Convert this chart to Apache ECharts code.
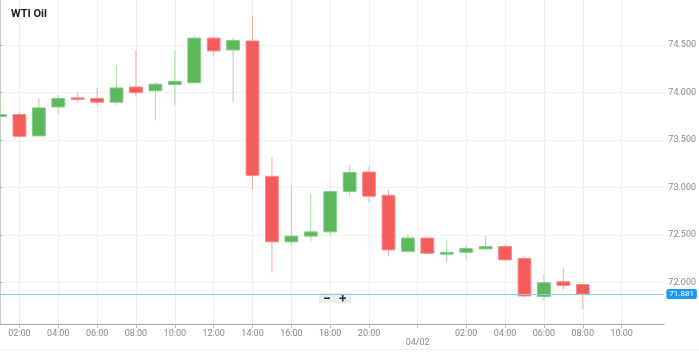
<!DOCTYPE html>
<html><head><meta charset="utf-8">
<script src="https://cdn.jsdelivr.net/npm/echarts@6/dist/echarts.min.js"></script>
<style>html,body{margin:0;padding:0;background:#fff}#c{width:699px;height:352px}</style>
</head><body><div id="c"></div>
<script>
// Hourly candles (index = position on the x axis; 22:00 has no candle)
const hours = ['01:00','02:00','03:00','04:00','05:00','06:00','07:00','08:00','09:00','10:00','11:00','12:00','13:00','14:00','15:00','16:00','17:00','18:00','19:00','20:00','21:00','23:00','00:00','01:00','02:00','03:00','04:00','05:00','06:00','07:00','08:00'];
const opens  = [73.75, 73.77, 73.545, 73.85, 73.94, 73.94, 73.90, 74.06, 74.02, 74.085, 74.105, 74.575, 74.45, 74.545, 73.12, 72.43, 72.49, 72.535, 72.96, 73.165, 72.92, 72.33, 72.47, 72.30, 72.32, 72.355, 72.38, 72.255, 71.855, 72.01, 71.98];
const closes = [73.77, 73.54, 73.84, 73.94, 73.935, 73.90, 74.05, 74.00, 74.09, 74.12, 74.575, 74.44, 74.55, 73.13, 72.43, 72.49, 72.535, 72.96, 73.16, 72.91, 72.345, 72.47, 72.31, 72.32, 72.36, 72.38, 72.24, 71.86, 72.00, 71.97, 71.881];
const lows   = [73.71, 73.52, 73.54, 73.78, 73.90, 73.87, 73.87, 73.96, 73.71, 73.87, 74.10, 74.39, 73.895, 72.98, 72.105, 72.39, 72.435, 72.49, 72.905, 72.84, 72.275, 72.32, 72.30, 72.21, 72.24, 72.35, 72.235, 71.845, 71.81, 71.93, 71.72];
const highs  = [73.95, 73.80, 73.94, 73.98, 74.00, 74.05, 74.29, 74.45, 74.11, 74.45, 74.60, 74.59, 74.575, 74.81, 73.32, 73.025, 72.935, 72.975, 73.24, 73.22, 72.975, 72.51, 72.47, 72.45, 72.39, 72.49, 72.40, 72.275, 72.09, 72.15, 71.98];
const lastPrice = 71.881;

// Axis ticks
const xTickPos    = [1, 3, 5, 7, 9, 11, 13, 15, 17, 19, 21.5, 24, 26, 28, 30, 32];
const xTickLabels = ['02:00','04:00','06:00','08:00','10:00','12:00','14:00','16:00','18:00','20:00','04/02','02:00','04:00','06:00','08:00','10:00'];
const yTickValues = [72.0, 72.5, 73.0, 73.5, 74.0, 74.5];

const candleData = opens.map((o, i) => [i, o, closes[i], lows[i], highs[i]]);

const UP = {body: '#5cb85c', edge: '#86cc86', wick: '#a9dba4'};
const DOWN = {body: '#f55b5b', edge: '#f98a8a', wick: '#f7a8a8'};

function renderCandle(params, api) {
  const x = api.value(0), o = api.value(1), c = api.value(2), l = api.value(3), h = api.value(4);
  const pO = api.coord([x, o]), pC = api.coord([x, c]);
  const pL = api.coord([x, l]), pH = api.coord([x, h]);
  const w = api.size([1, 0])[0] * 0.66;
  const col = c >= o ? UP : DOWN;
  let top = Math.min(pO[1], pC[1]);
  let hgt = Math.abs(pO[1] - pC[1]);
  if (hgt < 1.5) { top -= (1.5 - hgt) / 2; hgt = 1.5; }
  return {
    type: 'group',
    children: [
      {type: 'line', shape: {x1: pH[0], y1: pH[1], x2: pL[0], y2: pL[1]}, style: {stroke: col.wick, lineWidth: 1}},
      {type: 'rect', shape: {x: pO[0] - w / 2, y: top, width: w, height: hgt}, style: {fill: col.body, stroke: col.edge, lineWidth: 1}}
    ]
  };
}

const chart = echarts.init(document.getElementById('c'));
chart.setOption({
  animation: false,
  backgroundColor: '#ffffff',
  title: {text: 'WTI Oil', left: 11, top: 9, padding: 0, textStyle: {fontSize: 11, fontWeight: 'bold', color: '#222', fontFamily: 'Roboto'}},
  grid: {left: 0, right: 27, top: 0, bottom: 28, containLabel: false},
  xAxis: {
    type: 'value', min: 0, max: 34.2,
    axisLine: {show: true, lineStyle: {color: '#aaaaaa', width: 1}},
    axisTick: {show: true, length: 4, customValues: xTickPos, lineStyle: {color: '#bbbbbb'}},
    axisLabel: {
      customValues: xTickPos, color: '#8a8a8a', fontSize: 9, margin: 5, fontFamily: 'Roboto',
      formatter: function (v) {
        const i = xTickPos.findIndex(p => Math.abs(p - v) < 1e-6);
        if (i < 0) return '';
        const t = xTickLabels[i];
        return t.indexOf('/') >= 0 ? '\n' + t : t;
      }
    },
    splitLine: {show: true, lineStyle: {color: '#efefef', width: 1}}
  },
  yAxis: {
    type: 'value', position: 'right', min: 71.565, max: 74.976, scale: true,
    axisLine: {show: true, lineStyle: {color: '#cccccc', width: 2}},
    axisTick: {show: true, length: 3, customValues: yTickValues, lineStyle: {color: '#bbbbbb'}},
    axisLabel: {customValues: yTickValues, color: '#8a8a8a', fontSize: 9, margin: 4, fontFamily: 'Roboto', formatter: v => v.toFixed(3)},
    splitLine: {show: true, lineStyle: {color: '#f2f2f2', width: 1}}
  },
  series: [{
    type: 'custom',
    renderItem: renderCandle,
    clip: true,
    encode: {x: 0, y: [1, 2, 3, 4]},
    data: candleData,
    markLine: {
      silent: true, symbol: 'none',
      lineStyle: {color: '#8ecbf2', type: 'solid', width: 1},
      label: {
        show: true, position: 'end', distance: 2,
        formatter: () => lastPrice.toFixed(3),
        color: '#ffffff', backgroundColor: '#2196f3', borderRadius: 2,
        padding: [1, 3, 1, 3], fontSize: 8, fontFamily: 'Roboto'
      },
      data: [{yAxis: lastPrice}]
    }
  }],
  graphic: [
    {type: 'rect', left: 319, top: 293, shape: {width: 32, height: 10}, style: {fill: '#eeeeee'}},
    {type: 'rect', left: 324, top: 297.4, shape: {width: 6, height: 1.6}, style: {fill: '#333'}},
    {type: 'rect', left: 339.5, top: 297.4, shape: {width: 6.5, height: 1.6}, style: {fill: '#333'}},
    {type: 'rect', left: 341.95, top: 295, shape: {width: 1.6, height: 6.5}, style: {fill: '#333'}},
    {type: 'line', shape: {x1: 0, y1: 349.5, x2: 699, y2: 349.5}, style: {stroke: '#eeeeee', lineWidth: 1}}
  ]
});
</script></body></html>
